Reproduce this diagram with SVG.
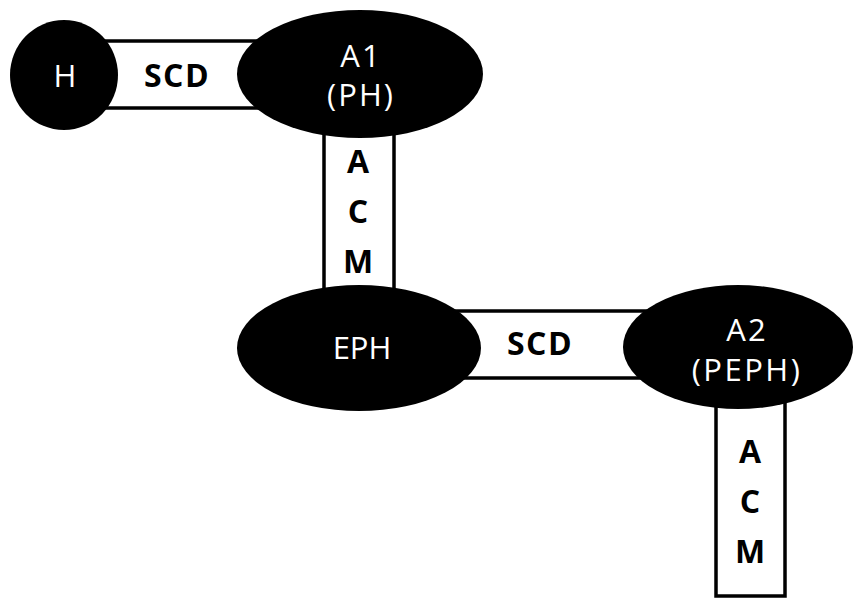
<svg xmlns="http://www.w3.org/2000/svg" width="855" height="598" viewBox="0 0 855 598">
<style>
.bar{fill:#fff;stroke:#000;stroke-width:3.5}
.node{fill:#000}
.bl{font-family:"Open Sans","Liberation Sans",sans-serif;font-weight:bold;font-size:32px;fill:#000;text-anchor:middle}
.wt{font-family:"Open Sans","Liberation Sans",sans-serif;font-size:31px;fill:#fff;text-anchor:middle}
</style>
<rect width="855" height="598" fill="#fff"/>
<g id="connectors">
  <g id="scd1">
    <rect class="bar" x="90" y="41" width="190" height="67"/>
    <text class="bl" x="177" y="87" letter-spacing="1.5">SCD</text>
  </g>
  <g id="acm1">
    <rect class="bar" x="324" y="115" width="70" height="185"/>
    <text class="bl" x="358" y="173">A</text>
    <text class="bl" x="358" y="223">C</text>
    <text class="bl" x="358" y="273">M</text>
  </g>
  <g id="scd2">
    <rect class="bar" x="450" y="311" width="200" height="67"/>
    <text class="bl" x="540" y="355" letter-spacing="1.5">SCD</text>
  </g>
  <g id="acm2">
    <rect class="bar" x="716" y="385" width="69" height="211"/>
    <text class="bl" x="750" y="463">A</text>
    <text class="bl" x="750" y="513">C</text>
    <text class="bl" x="750" y="563">M</text>
  </g>
</g>
<g id="H">
  <ellipse class="node" cx="64" cy="75" rx="54" ry="55"/>
  <text class="wt" x="65" y="87" font-size="35">H</text>
</g>
<g id="A1">
  <ellipse class="node" cx="360" cy="74" rx="123" ry="64"/>
  <text class="wt" x="361" y="67" letter-spacing="2">A1</text>
  <text class="wt" x="361" y="106" letter-spacing="2">(PH)</text>
</g>
<g id="EPH">
  <ellipse class="node" cx="359" cy="348" rx="122" ry="63"/>
  <text class="wt" x="362" y="359">EPH</text>
</g>
<g id="A2">
  <ellipse class="node" cx="738" cy="347" rx="115" ry="62"/>
  <text class="wt" x="747" y="341" letter-spacing="2">A2</text>
  <text class="wt" x="747" y="381" letter-spacing="2.5">(PEPH)</text>
</g>
</svg>
